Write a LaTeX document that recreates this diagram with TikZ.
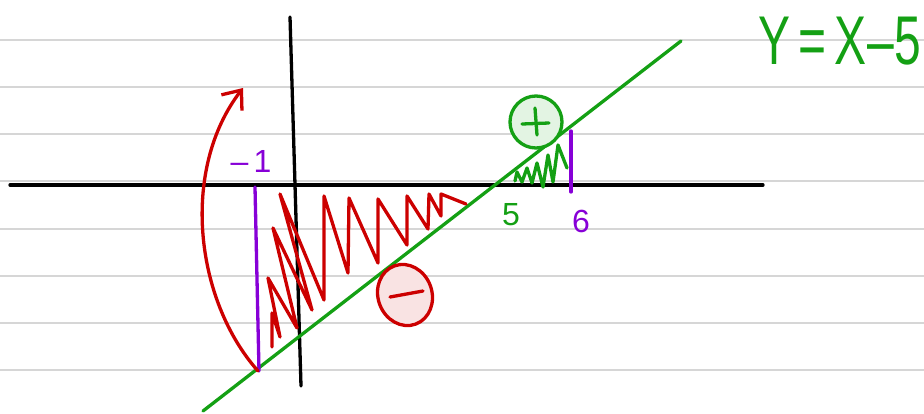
\documentclass[tikz,border=0pt]{standalone}
\usepackage{fontspec}
\setmainfont{Liberation Sans}
\usetikzlibrary{arrows.meta,shapes.geometric}
\definecolor{penred}{RGB}{204,0,0}
\definecolor{pengreen}{RGB}{20,160,20}
\definecolor{penviolet}{RGB}{135,0,215}

\begin{document}
\begin{tikzpicture}[x=1pt,y=-1pt,line cap=round,line join=round,
  rule/.style={draw=black!16,line width=1.6pt},
  axis/.style={draw=black,line width=3.3pt},
  pen/.style={line width=3.3pt},
  lbl/.style={inner sep=0pt,font=\fontsize{32}{32}\selectfont}]
  \useasboundingbox (0,0) rectangle (924,413);
  % ruled paper
  \foreach \y in {40,87,134,181,229,276,323,370}
    \draw[rule] (0,\y) -- (924,\y);
  % axes
  \draw[axis] (10,185) -- (763,185);
  \draw[axis] (290,17) -- (301,386);
  % the line y = x - 5
  \draw[pen,pengreen] (203,411) -- (681,41);
  \node[inner sep=0pt,pengreen,anchor=west,font=\fontsize{60}{60}\selectfont] (eq) at (758,41)
    {\scalebox{0.8}[1.15]{Y\,=\,X{\kern1pt}–{\kern1pt}5}};
  % bounds
  \draw[pen,penviolet] (255,187) -- (259,371);
  \draw[pen,penviolet] (571,131) -- (571,192);
  \node[lbl,penviolet] (lo) at (251,161) {–\,1};
  \node[lbl,penviolet] (hi) at (581,221) {6};
  \node[lbl,pengreen] (root) at (511,215) {5};
  % negative part
  \draw[pen,penred] (272,347) -- (272,313) -- (280,337) -- (268,278)
    -- (297,328) -- (273,228) -- (312,310) -- (280,194) -- (324,300)
    -- (324,196) -- (348,273) -- (349,198) -- (378,263) -- (378,199)
    -- (407,245) -- (407,196) -- (428,229) -- (429,194) -- (441,216)
    -- (441,194) -- (466,204);
  \node[pen,draw=penred,fill=penred!11,ellipse,minimum width=54pt,
    minimum height=62pt,rotate=20,inner sep=0pt] (neg) at (405,295) {};
  \draw[pen,penred] (390,297) -- (423,291);
  % positive part
  \draw[pen,pengreen] (515,181) -- (517,172) -- (522,182) -- (527,168)
    -- (532,183) -- (537,163) -- (543,187) -- (548,155) -- (553,182)
    -- (558,145) -- (567,168);
  \node[pen,draw=pengreen,fill=pengreen!12,circle,minimum size=52pt,
    inner sep=0pt] (pos) at (536,122) {};
  \draw[pen,pengreen] (522,124) -- (549,123);
  \draw[pen,pengreen] (535,108) -- (537,135);
  % sweep
  \draw[pen,penred,-{Straight Barb[length=16pt,width=26pt]}]
    (258,371) .. controls (195,300) and (180,170) .. (243,88);
\end{tikzpicture}
\end{document}
